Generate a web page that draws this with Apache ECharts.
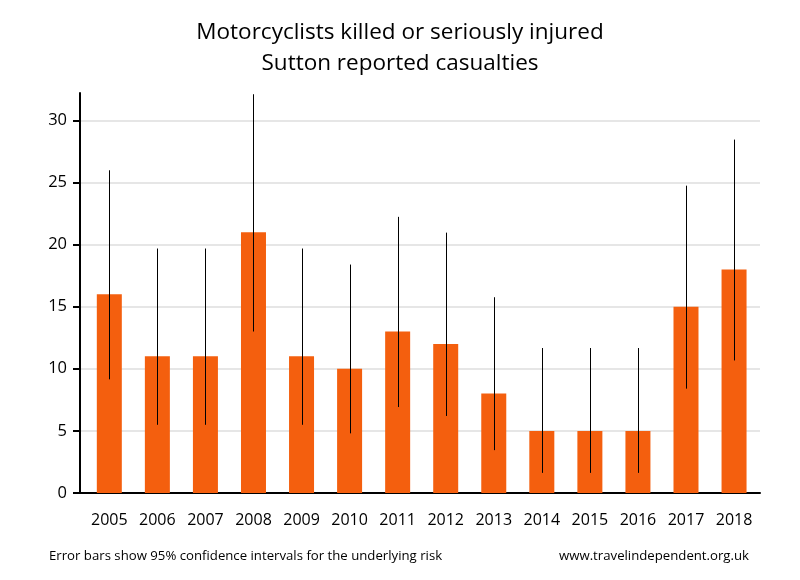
<!DOCTYPE html>
<html><head><meta charset="utf-8">
<script src="https://cdn.jsdelivr.net/npm/echarts@6/dist/echarts.min.js"></script>
<style>html,body{margin:0;padding:0;background:#fff}#c{width:800px;height:580px}</style>
</head><body><div id="c"></div>
<script>
const years = ['2005','2006','2007','2008','2009','2010','2011','2012','2013','2014','2015','2016','2017','2018'];
const casualties = [16, 11, 11, 21, 11, 10, 13, 12, 8, 5, 5, 5, 15, 18];
const ciLow  = [9.15, 5.49, 5.49, 13.0, 5.49, 4.80, 6.92, 6.20, 3.45, 1.62, 1.62, 1.62, 8.40, 10.67];
const ciHigh = [25.98, 19.68, 19.68, 32.10, 19.68, 18.39, 22.23, 20.96, 15.76, 11.67, 11.67, 11.67, 24.74, 28.45];
const yTicks = [0, 5, 10, 15, 20, 25, 30];
const titleText = 'Motorcyclists killed or seriously injured\nSutton reported casualties';
const noteLeft = 'Error bars show 95% confidence intervals for the underlying risk';
const noteRight = 'www.travelindependent.org.uk';

const FONT = 'Open Sans';
const chart = echarts.init(document.getElementById('c'), null, {renderer: 'canvas'});
const xIdx = years.map((_, i) => i);
chart.setOption({
  animation: false,
  backgroundColor: '#fff',
  title: [
    {text: titleText, left: 'center', top: 12,
     textStyle: {fontFamily: FONT, fontSize: 22.5, fontWeight: 'normal', color: '#000', lineHeight: 31}},
    {text: noteLeft, left: 44, top: 545,
     textStyle: {fontFamily: FONT, fontSize: 13.2, fontWeight: 'normal', color: '#000'}},
    {text: noteRight, right: 46, top: 545,
     textStyle: {fontFamily: FONT, fontSize: 13.2, fontWeight: 'normal', color: '#000'}}
  ],
  grid: {left: 80, right: 40, top: 93, bottom: 87},
  xAxis: {
    type: 'value', min: -0.61, max: 13.54,
    axisLine: {show: true, onZero: false, lineStyle: {color: '#000', width: 2}},
    axisTick: {show: false},
    splitLine: {show: false},
    axisLabel: {customValues: xIdx, formatter: v => years[v], fontFamily: FONT, fontSize: 16, color: '#000', margin: 19}
  },
  yAxis: {
    type: 'value', min: 0, max: 32.2,
    axisLine: {show: true, onZero: false, lineStyle: {color: '#000', width: 2}},
    axisTick: {show: true, customValues: yTicks, length: 7, lineStyle: {color: '#000', width: 2}},
    axisLabel: {customValues: yTicks, fontFamily: FONT, fontSize: 16.5, color: '#000', margin: 13},
    splitLine: {show: true, lineStyle: {color: '#e6e6e6', width: 2}}
  },
  series: [
    {type: 'bar', data: casualties.map((v, i) => [i, v]), barWidth: 25,
     itemStyle: {color: '#f45f0e'}, z: 2},
    {type: 'custom', z: 3, clip: true,
     data: casualties.map((v, i) => [i, ciLow[i], ciHigh[i]]),
     encode: {x: 0, y: [1, 2]},
     renderItem: (params, api) => {
       const lo = api.coord([api.value(0), api.value(1)]);
       const hi = api.coord([api.value(0), api.value(2)]);
       const x = Math.round(lo[0]) + 0.5;
       return {type: 'line', shape: {x1: x, y1: lo[1], x2: x, y2: hi[1]},
               style: {stroke: '#000', lineWidth: 1}};
     }}
  ]
});
</script></body></html>
